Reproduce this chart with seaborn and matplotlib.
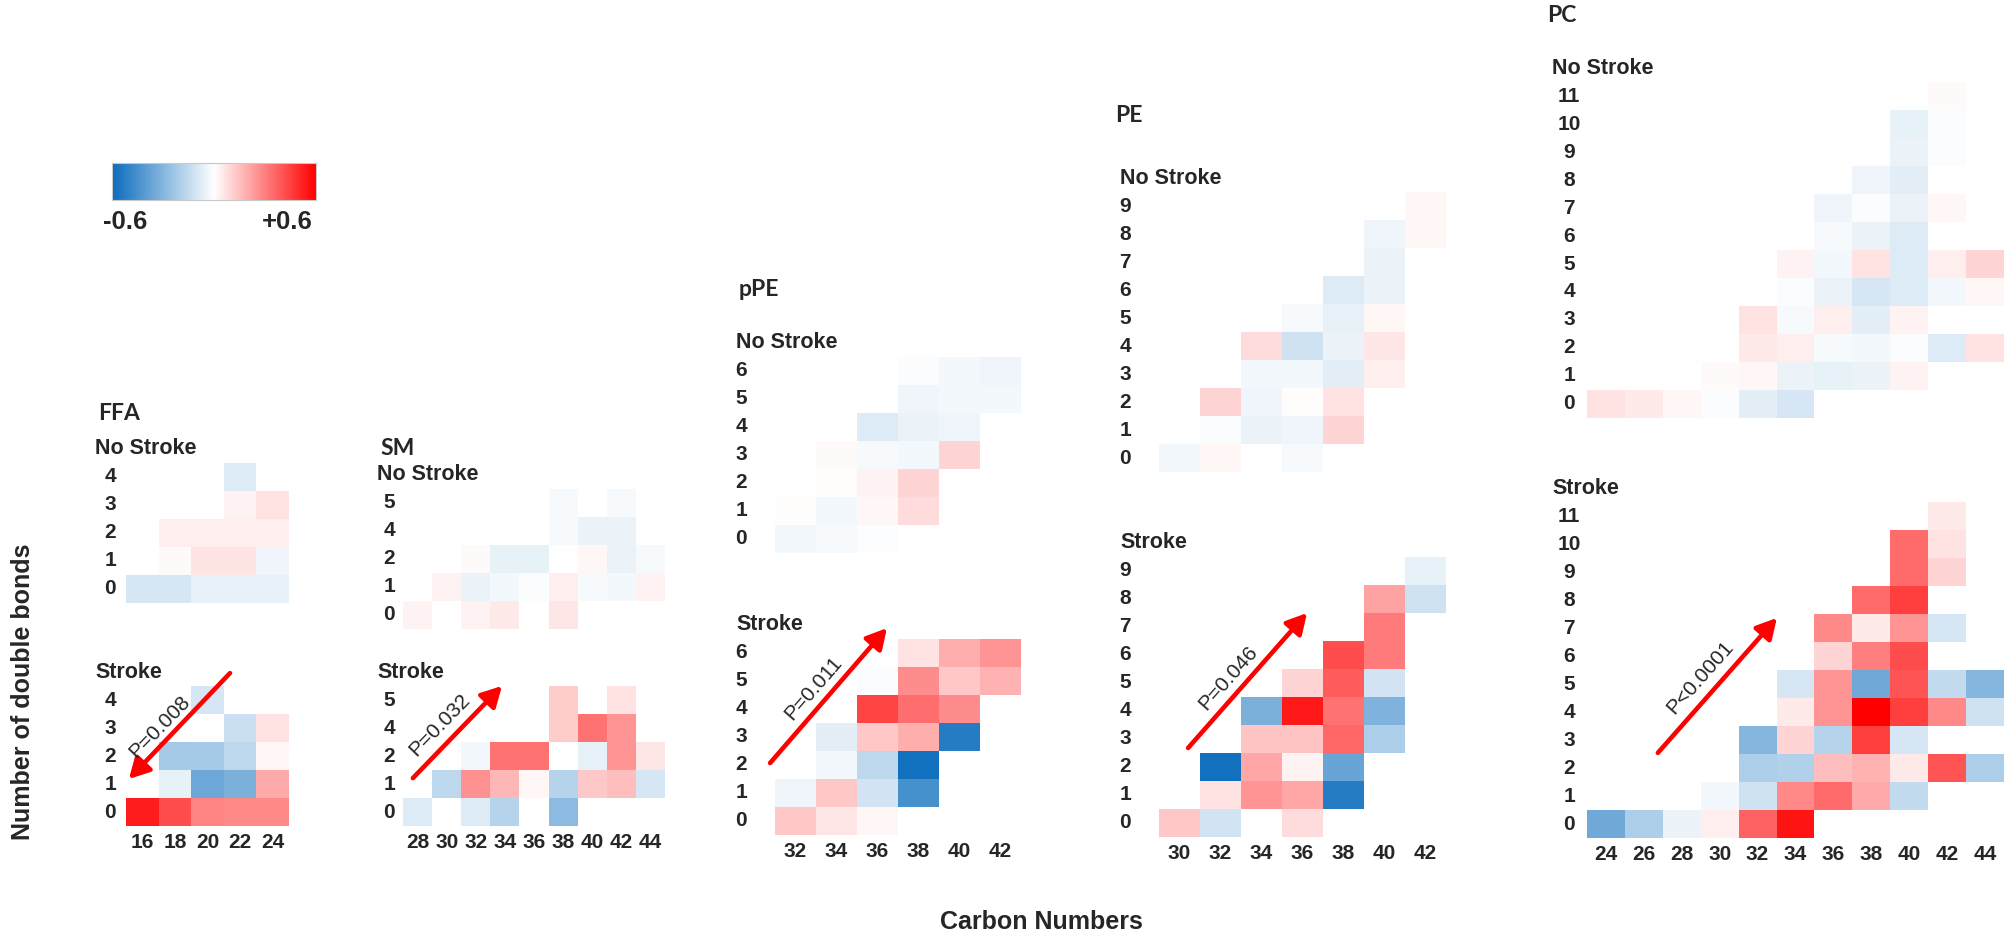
import numpy as np
import pandas as pd
import matplotlib
matplotlib.use('Agg')
import matplotlib.pyplot as plt
import seaborn as sns
from matplotlib.colors import LinearSegmentedColormap, Normalize
from matplotlib.cm import ScalarMappable

nan = np.nan

# ---- data (correlation per carbon number / double bond cell) ----
ffa_carbons = [16, 18, 20, 22, 24]
ffa_bonds = [4, 3, 2, 1, 0]
ffa_no_stroke = [
    [nan, nan, nan, -0.08, nan],
    [nan, nan, nan, 0.03, 0.07],
    [nan, 0.04, 0.04, 0.04, 0.04],
    [nan, 0.01, 0.065, 0.065, -0.04],
    [-0.10, -0.10, -0.06, -0.06, -0.06],
]
ffa_stroke = [
    [nan, nan, -0.10, nan, nan],
    [nan, nan, 0.0, -0.13, 0.07],
    [nan, -0.22, -0.22, -0.16, 0.02],
    [nan, -0.06, -0.36, -0.32, 0.20],
    [0.53, 0.42, 0.29, 0.28, 0.28],
]

sm_carbons = [28, 30, 32, 34, 36, 38, 40, 42, 44]
sm_bonds = [5, 4, 2, 1, 0]
sm_no_stroke = [
    [nan, nan, nan, nan, nan, -0.02, nan, -0.02, nan],
    [nan, nan, nan, nan, nan, -0.02, -0.05, -0.05, nan],
    [nan, nan, 0.01, -0.06, -0.06, 0.0, 0.02, -0.05, -0.02],
    [nan, 0.03, -0.05, -0.03, -0.01, 0.04, -0.02, -0.03, 0.03],
    [0.03, nan, 0.03, 0.05, nan, 0.06, nan, nan, nan],
]
sm_stroke = [
    [nan, nan, nan, nan, nan, 0.12, nan, 0.07, nan],
    [nan, nan, nan, nan, nan, 0.12, 0.33, 0.25, nan],
    [nan, nan, -0.03, 0.33, 0.33, 0.0, -0.06, 0.25, 0.06],
    [nan, -0.16, 0.26, 0.17, 0.02, -0.18, 0.13, 0.15, -0.10],
    [-0.08, nan, -0.08, -0.18, nan, -0.28, nan, nan, nan],
]

ppe_carbons = [32, 34, 36, 38, 40, 42]
ppe_bonds = [6, 5, 4, 3, 2, 1, 0]
ppe_no_stroke = [
    [nan, nan, nan, -0.01, -0.03, -0.04],
    [nan, nan, nan, -0.04, -0.03, -0.03],
    [nan, nan, -0.08, -0.05, -0.04, nan],
    [nan, 0.01, -0.02, -0.03, 0.10, nan],
    [nan, 0.005, 0.03, 0.10, nan, nan],
    [0.005, -0.03, 0.02, 0.08, nan, nan],
    [-0.03, -0.02, -0.005, nan, nan, nan],
]
ppe_stroke = [
    [nan, nan, nan, 0.07, 0.19, 0.25],
    [nan, nan, -0.01, 0.27, 0.13, 0.18],
    [nan, nan, 0.44, 0.34, 0.27, nan],
    [nan, -0.07, 0.13, 0.19, -0.53, nan],
    [nan, -0.03, -0.16, -0.58, nan, nan],
    [-0.04, 0.13, -0.11, -0.45, nan, nan],
    [0.13, 0.06, 0.02, nan, nan, nan],
]

pe_carbons = [30, 32, 34, 36, 38, 40, 42]
pe_bonds = [9, 8, 7, 6, 5, 4, 3, 2, 1, 0]
pe_no_stroke = [
    [nan, nan, nan, nan, nan, nan, 0.02],
    [nan, nan, nan, nan, nan, -0.04, 0.02],
    [nan, nan, nan, nan, nan, -0.05, nan],
    [nan, nan, nan, nan, -0.08, -0.05, nan],
    [nan, nan, nan, -0.02, -0.06, 0.02, nan],
    [nan, nan, 0.08, -0.12, -0.05, 0.06, nan],
    [nan, nan, -0.03, -0.03, -0.07, 0.04, nan],
    [nan, 0.10, -0.04, 0.005, 0.07, nan, nan],
    [nan, -0.01, -0.05, -0.04, 0.10, nan, nan],
    [-0.03, 0.02, nan, -0.02, nan, nan, nan],
]
pe_stroke = [
    [nan, nan, nan, nan, nan, nan, -0.06],
    [nan, nan, nan, nan, nan, 0.22, -0.12],
    [nan, nan, nan, nan, nan, 0.31, nan],
    [nan, nan, nan, nan, 0.42, 0.31, nan],
    [nan, nan, nan, 0.10, 0.38, -0.11, nan],
    [nan, nan, -0.32, 0.54, 0.33, -0.31, nan],
    [nan, nan, 0.14, 0.14, 0.36, -0.20, nan],
    [nan, -0.58, 0.21, 0.03, -0.37, nan, nan],
    [nan, 0.07, 0.25, 0.21, -0.53, nan, nan],
    [0.13, -0.11, nan, 0.08, nan, nan, nan],
]

pc_carbons = [24, 26, 28, 30, 32, 34, 36, 38, 40, 42, 44]
pc_bonds = [11, 10, 9, 8, 7, 6, 5, 4, 3, 2, 1, 0]
pc_no_stroke = [
    [nan, nan, nan, nan, nan, nan, nan, nan, nan, 0.01, nan],
    [nan, nan, nan, nan, nan, nan, nan, nan, -0.06, -0.01, nan],
    [nan, nan, nan, nan, nan, nan, nan, nan, -0.05, -0.01, nan],
    [nan, nan, nan, nan, nan, nan, nan, -0.04, -0.07, nan, nan],
    [nan, nan, nan, nan, nan, nan, -0.04, -0.01, -0.05, 0.02, nan],
    [nan, nan, nan, nan, nan, nan, -0.02, -0.05, -0.08, nan, nan],
    [nan, nan, nan, nan, nan, 0.03, -0.03, 0.07, -0.08, 0.04, 0.10],
    [nan, nan, nan, nan, nan, -0.01, -0.05, -0.10, -0.08, -0.03, 0.02],
    [nan, nan, nan, nan, 0.07, -0.02, 0.04, -0.07, 0.03, nan, nan],
    [nan, nan, nan, nan, 0.05, 0.04, -0.02, -0.03, -0.01, -0.08, 0.07],
    [nan, nan, nan, 0.01, 0.02, -0.05, -0.06, -0.05, 0.03, nan, nan],
    [0.07, 0.05, 0.02, -0.01, -0.07, -0.10, nan, nan, nan, nan, nan],
]
pc_stroke = [
    [nan, nan, nan, nan, nan, nan, nan, nan, nan, 0.05, nan],
    [nan, nan, nan, nan, nan, nan, nan, nan, 0.35, 0.07, nan],
    [nan, nan, nan, nan, nan, nan, nan, nan, 0.35, 0.10, nan],
    [nan, nan, nan, nan, nan, nan, nan, 0.35, 0.45, nan, nan],
    [nan, nan, nan, nan, nan, nan, 0.28, 0.05, 0.25, -0.10, nan],
    [nan, nan, nan, nan, nan, nan, 0.10, 0.30, 0.42, nan, nan],
    [nan, nan, nan, nan, nan, -0.10, 0.25, -0.35, 0.40, -0.15, -0.30],
    [nan, nan, nan, nan, nan, 0.05, 0.25, 0.60, 0.45, 0.28, -0.12],
    [nan, nan, nan, nan, -0.30, 0.10, -0.18, 0.45, -0.10, nan, nan],
    [nan, nan, nan, nan, -0.20, -0.19, 0.15, 0.18, 0.05, 0.40, -0.20],
    [nan, nan, nan, -0.03, -0.12, 0.28, 0.35, 0.20, -0.15, nan, nan],
    [-0.35, -0.20, -0.05, 0.04, 0.37, 0.55, nan, nan, nan, nan, nan],
]

lipid_names = ['FFA', 'SM', 'pPE', 'PE', 'PC']
p_labels = ['P=0.008', 'P=0.032', 'P=0.011', 'P=0.046', 'P<0.0001']

# ---- layout (pixels) ----
W, H = 2010, 939
ROW_H = 28
layout = {
    'FFA': dict(left=126, cw=32.6, ns_top=463, st_top=686, lab=16, tag=31, title=(98, 414)),
    'SM': dict(left=403, cw=29.1, ns_top=489, st_top=686, lab=14, tag=26, title=(380, 449)),
    'pPE': dict(left=775, cw=41, ns_top=357, st_top=639, lab=34, tag=39, title=(739, 290)),
    'PE': dict(left=1159, cw=41, ns_top=192, st_top=557, lab=34, tag=39, title=(1115, 115)),
    'PC': dict(left=1587, cw=37.9, ns_top=82, st_top=502, lab=18, tag=35, title=(1547, 15)),
}
# trend arrows, in cell units of the Stroke heatmap
arrows = {
    'FFA': dict(tail=(3.19, -0.46), head=(0.09, 3.32), text=(1.04, 1.46), rot=46),
    'SM': dict(tail=(0.34, 3.29), head=(3.40, 0.0), text=(1.27, 1.39), rot=46),
    'pPE': dict(tail=(-0.12, 4.43), head=(2.73, -0.39), text=(0.93, 1.75), rot=49),
    'PE': dict(tail=(0.71, 6.82), head=(3.61, 2.0), text=(1.68, 4.32), rot=48.5),
    'PC': dict(tail=(1.87, 8.96), head=(5.01, 4.14), text=(2.98, 6.25), rot=48.5),
}

sns.set_style('white')
plt.rcParams['font.family'] = ['Liberation Sans', 'DejaVu Sans']

cmap = LinearSegmentedColormap.from_list('lipid', ['#0a6cbc', '#ffffff', '#ff0000'])

fig = plt.figure(figsize=(W / 100, H / 100), dpi=100)


def px_axes(left, top, width, height):
    return fig.add_axes([left / W, 1 - (top + height) / H, width / W, height / H])


def block(ax, values, carbons, bonds, tag, lab_px, tag_px, show_x):
    df = pd.DataFrame(values, index=bonds, columns=carbons)
    sns.heatmap(df, ax=ax, cmap=cmap, vmin=-0.6, vmax=0.6, cbar=False,
                xticklabels=show_x, yticklabels=True)
    ax.set_xlabel('')
    ax.set_ylabel('')
    ax.tick_params(length=0)
    ax.tick_params(axis='y', pad=lab_px * 0.72)
    plt.setp(ax.get_yticklabels(), rotation=0, ha='center', fontsize=15, fontweight='bold')
    if show_x:
        ax.tick_params(axis='x', pad=5)
        plt.setp(ax.get_xticklabels(), rotation=0, fontsize=15, fontweight='bold')
    ax.annotate(tag, xy=(0, 1), xycoords='axes fraction', xytext=(-tag_px, 14),
                textcoords='offset pixels', ha='left', va='center',
                fontsize=15.5, fontweight='bold')


panels = [
    (ffa_carbons, ffa_bonds, ffa_no_stroke, ffa_stroke),
    (sm_carbons, sm_bonds, sm_no_stroke, sm_stroke),
    (ppe_carbons, ppe_bonds, ppe_no_stroke, ppe_stroke),
    (pe_carbons, pe_bonds, pe_no_stroke, pe_stroke),
    (pc_carbons, pc_bonds, pc_no_stroke, pc_stroke),
]

for name, p_text, (carbons, bonds, no_stroke, stroke) in zip(lipid_names, p_labels, panels):
    g = layout[name]
    w = len(carbons) * g['cw']
    h = len(bonds) * ROW_H
    ax_ns = px_axes(g['left'], g['ns_top'], w, h)
    ax_st = px_axes(g['left'], g['st_top'], w, h)
    block(ax_ns, no_stroke, carbons, bonds, 'No Stroke', g['lab'], g['tag'], False)
    block(ax_st, stroke, carbons, bonds, 'Stroke', g['lab'], g['tag'], True)

    a = arrows[name]
    ax_st.annotate('', xy=a['head'], xytext=a['tail'], xycoords='data',
                   arrowprops=dict(arrowstyle='-|>,head_length=0.55,head_width=0.3',
                                   color='#ff0000', lw=3.3, mutation_scale=22,
                                   shrinkA=0, shrinkB=0),
                   annotation_clip=False)
    ax_st.text(a['text'][0], a['text'][1], p_text, rotation=a['rot'], rotation_mode='anchor',
               ha='center', va='center', fontsize=15, clip_on=False)

    tx, ty = g['title']
    fig.text(tx / W, 1 - ty / H, name, ha='left', va='center', fontsize=16.5,
             fontweight='bold', family=['Lato', 'DejaVu Sans'])

# colour key
cax = px_axes(112, 163, 204, 37)
cb = fig.colorbar(ScalarMappable(norm=Normalize(-0.6, 0.6), cmap=cmap), cax=cax,
                  orientation='horizontal')
cb.set_ticks([])
cb.outline.set_edgecolor('#c8c8c8')
cb.outline.set_linewidth(0.8)
fig.text(125 / W, 1 - 222 / H, '-0.6', ha='center', va='center', fontsize=18.5, fontweight='bold')
fig.text(287 / W, 1 - 222 / H, '+0.6', ha='center', va='center', fontsize=18.5, fontweight='bold')

fig.text(23 / W, 1 - 692 / H, 'Number of double bonds', rotation=90, ha='center', va='center',
         fontsize=18, fontweight='bold')
fig.text(1041 / W, 1 - 922 / H, 'Carbon Numbers', ha='center', va='center',
         fontsize=18, fontweight='bold')

fig.savefig('out.png', dpi=100)
